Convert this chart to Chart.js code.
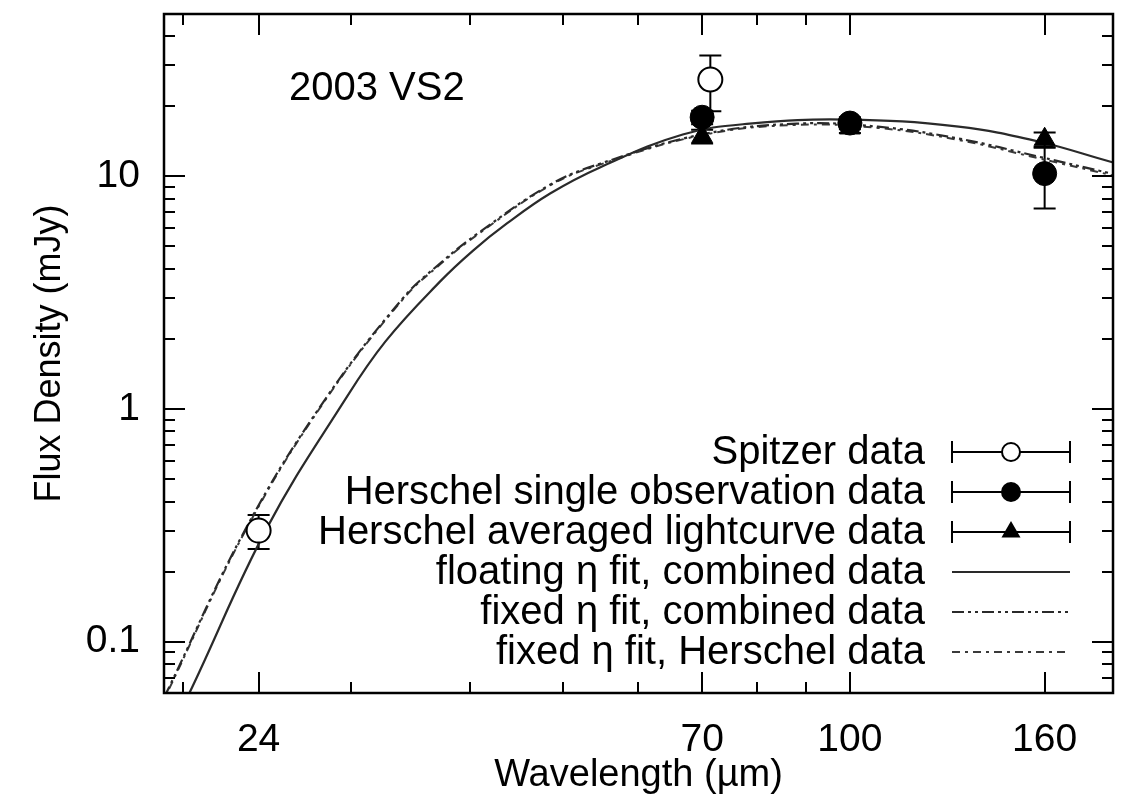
<!DOCTYPE html>
<html>
<head>
<meta charset="utf-8">
<script src="https://cdn.jsdelivr.net/npm/chart.js@4.4.1/dist/chart.umd.min.js"></script>
<style>
  html, body { margin: 0; padding: 0; background: #fff; }
  #wrap { width: 1127px; height: 801px; }
</style>
</head>
<body>
<div id="wrap"><canvas id="sedChart" width="1127" height="801"></canvas></div>
<script>
// axis ticks
const xTicks = [24, 70, 100, 160];
const xMinorTicks = [20, 30, 40, 50, 60, 80, 90];
const yTicks = [0.1, 1, 10];
const yMinorTicks = [0.07, 0.08, 0.09, 0.2, 0.3, 0.4, 0.5, 0.6, 0.7, 0.8, 0.9,
                     2, 3, 4, 5, 6, 7, 8, 9, 20, 30, 40];

// measured photometry (mJy)
const spitzerWave = [24, 71.4];
const spitzerFlux = [0.30, 26.0];
const spitzerErr = [0.05, 7.0];

const herschelWave = [70, 100, 160];
const singleFlux = [17.9, 16.9, 10.25];
const singleErr = [1.2, 1.0, 3.0];
const avgFlux = [14.8, 16.1, 14.4];
const avgErr = [1.0, 0.8, 1.0];

// model curves
const floatWave = [19.5, 20.3, 24.5, 29.5, 32.6, 37.2, 40.3, 43.7, 48.5, 54.7, 66.8, 78.5, 99, 130, 158, 188, 192];
const floatFlux = [0.044, 0.060, 0.309, 1.08, 1.95, 3.53, 4.80, 6.26, 8.42, 10.9, 15.1, 16.8, 17.5, 16.3, 14.05, 11.5, 11.3];

const fixedWave = [18.5, 19.2, 23.3, 28.1, 34.0, 37.2, 41.0, 48.5, 54.7, 70, 88, 107, 130, 158, 188, 192];
const fixedFlux = [0.044, 0.060, 0.309, 1.08, 2.99, 4.22, 5.78, 9.19, 11.3, 15.1, 16.8, 16.3, 14.5, 12.1, 10.25, 10.05];

const herWave = [18.5, 19.2, 23.3, 28.1, 34.0, 37.2, 41.0, 48.5, 54.7, 70, 88, 107, 130, 158, 188, 192];
const herFlux = [0.043, 0.059, 0.305, 1.07, 2.96, 4.18, 5.73, 9.12, 11.2, 15.0, 16.6, 16.1, 14.3, 11.9, 10.1, 9.9];

const FONT = "'Liberation Sans', Arial, Helvetica, sans-serif";

function pts(xs, ys) {
    return xs.map((x, i) => ({ x: x, y: ys[i] }));
}

const errorSets = [
    { wave: spitzerWave, flux: spitzerFlux, err: spitzerErr },
    { wave: herschelWave, flux: singleFlux, err: singleErr },
    { wave: herschelWave, flux: avgFlux, err: avgErr }
];

const framePlugin = {
    id: 'framePlugin',
    beforeDatasetsDraw(chart) {
        const ctx = chart.ctx;
        const xs = chart.scales.x, ys = chart.scales.y;
        ctx.save();
        ctx.strokeStyle = '#000';
        ctx.lineWidth = 2;
        errorSets.forEach(s => {
            s.wave.forEach((w, i) => {
                const px = xs.getPixelForValue(w);
                const top = ys.getPixelForValue(s.flux[i] + s.err[i]);
                const bot = ys.getPixelForValue(s.flux[i] - s.err[i]);
                ctx.beginPath();
                ctx.moveTo(px, top); ctx.lineTo(px, bot);
                ctx.moveTo(px - 11, top); ctx.lineTo(px + 11, top);
                ctx.moveTo(px - 11, bot); ctx.lineTo(px + 11, bot);
                ctx.stroke();
            });
        });
        ctx.restore();
    },
    afterDraw(chart) {
        const ctx = chart.ctx;
        const a = chart.chartArea;
        const xs = chart.scales.x, ys = chart.scales.y;
        ctx.save();
        ctx.strokeStyle = '#000';
        ctx.lineWidth = 2;
        ctx.beginPath();
        // inward ticks on all four sides
        xTicks.concat(xMinorTicks).forEach(v => {
            const len = xTicks.includes(v) ? 21 : 11;
            const px = Math.round(xs.getPixelForValue(v));
            ctx.moveTo(px, a.bottom); ctx.lineTo(px, a.bottom - len);
            ctx.moveTo(px, a.top); ctx.lineTo(px, a.top + len);
        });
        yTicks.concat(yMinorTicks).forEach(v => {
            const len = yTicks.includes(v) ? 21 : 11;
            const py = Math.round(ys.getPixelForValue(v));
            ctx.moveTo(a.left, py); ctx.lineTo(a.left + len, py);
            ctx.moveTo(a.right, py); ctx.lineTo(a.right - len, py);
        });
        ctx.stroke();
        ctx.lineWidth = 2.5;
        ctx.strokeRect(a.left, a.top, a.right - a.left, a.bottom - a.top);

        // object name
        ctx.fillStyle = '#000';
        ctx.font = '40px ' + FONT;
        ctx.textBaseline = 'middle';
        ctx.textAlign = 'left';
        ctx.fillText('2003 VS2', 289, 89);

        // legend, right aligned text with samples on the right
        ctx.textAlign = 'right';
        const x0 = 952, x1 = 1070, xm = 1011;
        chart.data.datasets.forEach((ds, i) => {
            const y = 452 + i * 40;
            ctx.fillText(ds.label, 925, y + 1);
            ctx.setLineDash([]);
            ctx.lineWidth = 2;
            ctx.strokeStyle = '#000';
            if (ds.showLine) {
                ctx.setLineDash(ds.borderDash || []);
                ctx.strokeStyle = ds.borderColor;
                ctx.beginPath();
                ctx.moveTo(x0, y); ctx.lineTo(x1, y);
                ctx.stroke();
            } else {
                ctx.beginPath();
                ctx.moveTo(x0, y); ctx.lineTo(x1, y);
                ctx.moveTo(x0, y - 11); ctx.lineTo(x0, y + 11);
                ctx.moveTo(x1, y - 11); ctx.lineTo(x1, y + 11);
                ctx.stroke();
                ctx.fillStyle = ds.pointBackgroundColor;
                Chart.helpers.drawPoint(ctx, {
                    pointStyle: ds.pointStyle, radius: 9, borderWidth: 2, rotation: 0
                }, xm, y);
                ctx.fillStyle = '#000';
            }
        });
        ctx.restore();
    }
};

const ctx = document.getElementById('sedChart').getContext('2d');
const sedChart = new Chart(ctx, {
    type: 'scatter',
    data: {
        datasets: [
            {
                label: 'Spitzer data',
                data: pts(spitzerWave, spitzerFlux),
                pointStyle: 'circle', pointRadius: 12,
                pointBackgroundColor: '#fff', pointBorderColor: '#000', pointBorderWidth: 2,
                showLine: false
            },
            {
                label: 'Herschel single observation data',
                data: pts(herschelWave, singleFlux),
                pointStyle: 'circle', pointRadius: 12,
                pointBackgroundColor: '#000', pointBorderColor: '#000', pointBorderWidth: 1,
                showLine: false
            },
            {
                label: 'Herschel averaged lightcurve data',
                data: pts(herschelWave, avgFlux),
                pointStyle: 'triangle', pointRadius: 12,
                pointBackgroundColor: '#000', pointBorderColor: '#000', pointBorderWidth: 1,
                showLine: false
            },
            {
                label: 'floating η fit, combined data',
                data: pts(floatWave, floatFlux),
                showLine: true, pointRadius: 0, borderWidth: 2.2,
                borderColor: '#2a2a2a', tension: 0.4
            },
            {
                label: 'fixed η fit, combined data',
                data: pts(fixedWave, fixedFlux),
                showLine: true, pointRadius: 0, borderWidth: 2.2,
                borderColor: '#2a2a2a', borderDash: [12, 4, 3, 4, 3, 4], tension: 0.4
            },
            {
                label: 'fixed η fit, Herschel data',
                data: pts(herWave, herFlux),
                showLine: true, pointRadius: 0, borderWidth: 2,
                borderColor: '#3a3a3a', borderDash: [8, 5, 3, 5], tension: 0.4
            }
        ]
    },
    options: {
        responsive: false,
        animation: false,
        devicePixelRatio: 1,
        layout: { padding: { top: 12, right: 13, left: 0, bottom: 0 } },
        plugins: {
            legend: { display: false },
            tooltip: { enabled: false }
        },
        scales: {
            x: {
                type: 'logarithmic',
                min: 19.1, max: 188.7,
                grid: { display: false, drawTicks: false },
                border: { display: false },
                afterBuildTicks: s => { s.ticks = xTicks.map(v => ({ value: v })); },
                afterFit: s => { s.height = 108; s.paddingLeft = 0; s.paddingRight = 0; },
                ticks: {
                    autoSkip: false, maxRotation: 0, padding: 24, color: '#000',
                    font: { family: FONT, size: 39 },
                    callback: v => String(v)
                },
                title: {
                    display: true, text: 'Wavelength (µm)', color: '#000',
                    font: { family: FONT, size: 38 },
                    padding: { top: 0, bottom: 3 }
                }
            },
            y: {
                type: 'logarithmic',
                min: 0.0602, max: 49.7,
                grid: { display: false, drawTicks: false },
                border: { display: false },
                afterBuildTicks: s => { s.ticks = yTicks.map(v => ({ value: v })); },
                afterFit: s => { s.width = 164; s.paddingTop = 0; s.paddingBottom = 0; },
                ticks: {
                    autoSkip: false, padding: 24, color: '#000',
                    font: { family: FONT, size: 39 },
                    callback: v => String(v)
                },
                title: {
                    display: true, text: 'Flux Density (mJy)', color: '#000',
                    font: { family: FONT, size: 36 },
                    padding: { top: 28, bottom: 0 }
                }
            }
        }
    },
    plugins: [framePlugin]
});
</script>
</body>
</html>
